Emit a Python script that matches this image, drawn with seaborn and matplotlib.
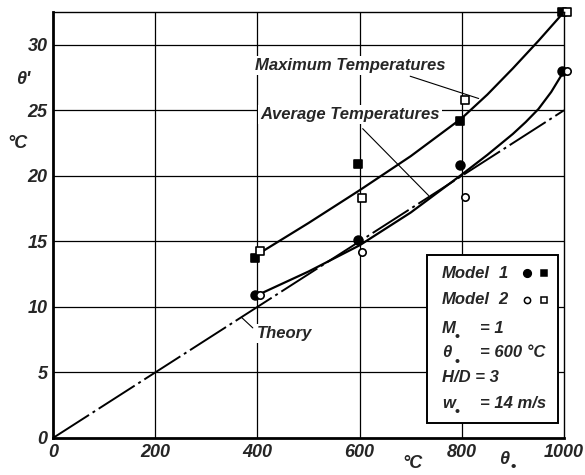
import numpy as np
import pandas as pd
import matplotlib
matplotlib.use("Agg")
import matplotlib.pyplot as plt
import matplotlib.transforms as mtransforms
from matplotlib.patches import Rectangle
import seaborn as sns

# ---- data ----
temps = [400, 600, 800, 1000]
m1_max = [13.7, 20.9, 24.2, 32.5]   # Model 1, filled squares
m2_max = [14.3, 18.3, 25.8, 32.5]   # Model 2, open squares
m1_avg = [10.9, 15.1, 20.8, 28.0]   # Model 1, filled circles
m2_avg = [10.9, 14.2, 18.4, 28.0]   # Model 2, open circles

max_curve_x = [400, 500, 600, 700, 800, 850, 900, 950, 1000]
max_curve_y = [14.0, 16.4, 18.9, 21.5, 24.4, 26.2, 28.2, 30.3, 32.5]
avg_curve_x = [400, 500, 600, 700, 800, 850, 900, 925, 950, 975, 1000]
avg_curve_y = [10.9, 12.7, 14.7, 17.2, 20.1, 21.6, 23.2, 24.1, 25.1, 26.4, 28.0]
theory_x = [0, 1000]
theory_y = [0, 25]

xticks = [0, 200, 400, 600, 800, 1000]
yticks = [0, 5, 10, 15, 20, 25, 30]

sns.set_style("white")
FONT = "Liberation Sans"
plt.rcParams["font.family"] = [FONT, "DejaVu Sans"]

fig = plt.figure(figsize=(5.85, 4.75), dpi=100)
ax = fig.add_axes([53 / 585, 1 - 438 / 475, (564 - 53) / 585, (438 - 12) / 475])
ax.set_xlim(0, 1000)
ax.set_ylim(0, 32.5)

# grid
for x in xticks[1:-1]:
    ax.axvline(x, color="black", lw=0.9, zorder=1)
for y in yticks[1:]:
    ax.axhline(y, color="black", lw=0.9, zorder=1)

for s in ["left", "bottom"]:
    ax.spines[s].set_linewidth(2.0)
for s in ["top", "right"]:
    ax.spines[s].set_linewidth(1.0)
for s in ax.spines.values():
    s.set_color("black")
    s.set_zorder(6)

# curves
sns.lineplot(x=theory_x, y=theory_y, ax=ax, color="black", lw=1.4, zorder=3)
ax.lines[-1].set_dashes([22, 2.2, 1.5, 2.2])
sns.lineplot(x=max_curve_x, y=max_curve_y, ax=ax, color="black", lw=1.6, zorder=3)
sns.lineplot(x=avg_curve_x, y=avg_curve_y, ax=ax, color="black", lw=1.6, zorder=3)

# markers
def pts(series, marker, filled, dx):
    df = pd.DataFrame({"x": temps, "y": series})
    sns.scatterplot(data=df, x="x", y="y", ax=ax, marker=marker, s=40 if filled else 28,
                    facecolor="black" if filled else "white", edgecolor="black",
                    linewidth=1.2, zorder=5, legend=False)
    coll = ax.collections[-1]
    coll.set_offset_transform(ax.transData + mtransforms.ScaledTranslation(dx / 72, 0, fig.dpi_scale_trans))
    coll.set_clip_on(False)

pts(m1_max, "s", True, -1.5)
pts(m1_avg, "o", True, -1.5)
pts(m2_max, "s", False, 2.0)
pts(m2_avg, "o", False, 2.0)

# ticks
tfont = dict(fontsize=13, fontweight="bold", fontstyle="italic")
ax.set_xticks(xticks)
ax.set_xticklabels([str(v) for v in xticks], **tfont)
ax.set_yticks(yticks)
ax.set_yticklabels([str(v) for v in yticks], **tfont)
ax.tick_params(length=0, pad=4)
ax.set_xlabel("")
ax.set_ylabel("")

# axis labels
fig.text(23 / 585, 1 - 80 / 475, "θ'", ha="center", va="center", **tfont)
fig.text(17 / 585, 1 - 143 / 475, "°C", ha="center", va="center", **tfont)
fig.text(412 / 585, 1 - 463 / 475, "°C", ha="center", va="center", **tfont)
fig.text(504 / 585, 1 - 460 / 475, "θ", ha="center", va="center", **tfont)
fig.text(513 / 585, 1 - 467 / 475, "•", ha="center", va="center", fontsize=11, fontweight="bold")

# annotations
afont = dict(fontsize=12, fontweight="bold", fontstyle="italic")
bb = dict(facecolor="white", edgecolor="none", pad=1.5)
ax.text(581, 28.4, "Maximum Temperatures", ha="center", va="center", bbox=bb, zorder=4, **afont)
ax.text(581, 24.7, "Average Temperatures", ha="center", va="center", bbox=bb, zorder=4, **afont)
ax.text(399, 8.0, "Theory", ha="left", va="center", bbox=bb, zorder=4, **afont)
ax.plot([699, 833], [27.6, 25.9], color="black", lw=0.8, zorder=4)
ax.plot([606, 735], [23.6, 18.5], color="black", lw=0.8, zorder=4)
ax.plot([391, 369], [8.4, 9.2], color="black", lw=0.8, zorder=4)

# info box
ax.add_patch(Rectangle((0.732, 0.035), 0.256, 0.395, transform=ax.transAxes,
                       facecolor="white", edgecolor="black", lw=1.4, zorder=7))
lfont = dict(fontsize=12, fontweight="bold", fontstyle="italic", zorder=8,
             transform=ax.transAxes, va="center")
rows = [0.387, 0.324, 0.258, 0.200, 0.141, 0.082]
ax.text(0.761, rows[0], "Model", ha="left", **lfont)
ax.text(0.881, rows[0], "1", ha="center", **lfont)
ax.text(0.761, rows[1], "Model", ha="left", **lfont)
ax.text(0.881, rows[1], "2", ha="center", **lfont)
for r, sym in [(rows[2], "M"), (rows[3], "θ"), (rows[5], "w")]:
    ax.text(0.761, r, sym, ha="left", **lfont)
    ax.text(0.786, r - 0.021, "•", ha="left", fontsize=10, fontweight="bold",
            zorder=8, transform=ax.transAxes, va="center")
ax.text(0.836, rows[2], "= 1", ha="left", **lfont)
ax.text(0.836, rows[3], "= 600 °C", ha="left", **lfont)
ax.text(0.761, rows[4], "H/D = 3", ha="left", **lfont)
ax.text(0.836, rows[5], "= 14 m/s", ha="left", **lfont)
for r, filled in [(rows[0], True), (rows[1], False)]:
    fc = "black" if filled else "white"
    ax.plot([0.928], [r], marker="o", ms=5.5 if filled else 4.5, mfc=fc, mec="black", mew=1.1,
            transform=ax.transAxes, zorder=8, ls="none")
    ax.plot([0.961], [r], marker="s", ms=5.0 if filled else 4.5, mfc=fc, mec="black", mew=1.1,
            transform=ax.transAxes, zorder=8, ls="none")

fig.savefig("out.png", dpi=100, facecolor="white")
